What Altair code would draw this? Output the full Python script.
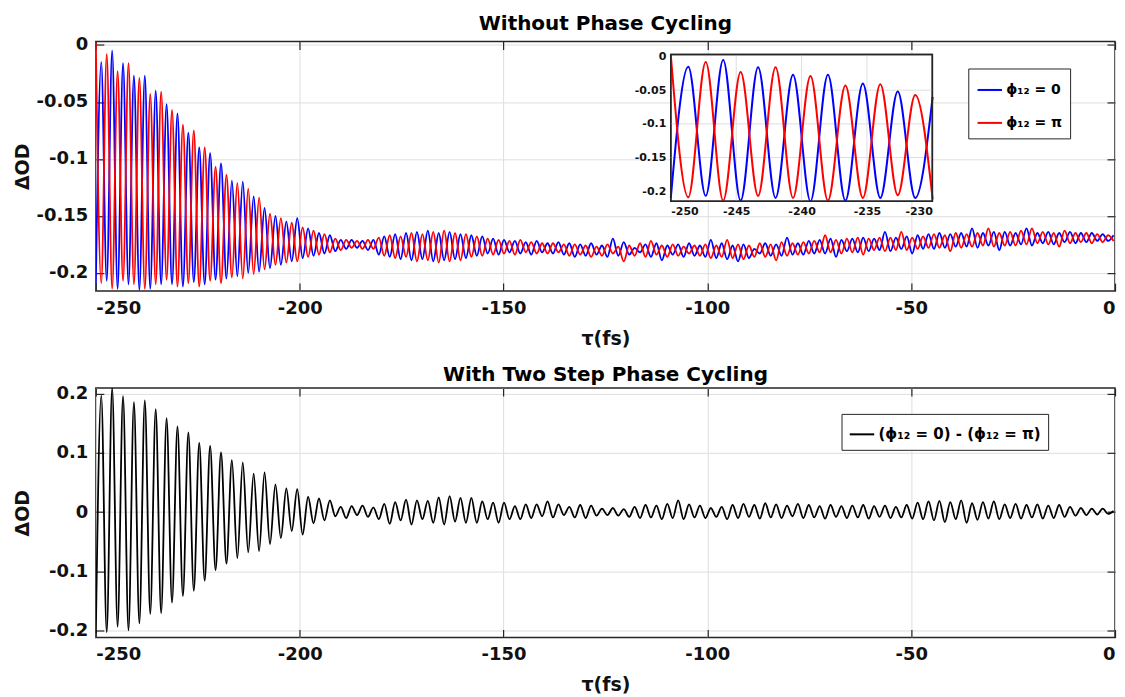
import altair as alt
import pandas as pd

# ---------------- data ----------------
# successive extrema of the oscillation are sampled every half period
HALF_PERIOD_FS = 1.335
TAU_START = -250.0

PHI0 = "ϕ₁₂ = 0"
PHIPI = "ϕ₁₂ = π"
DIFF = "(ϕ₁₂ = 0) - (ϕ₁₂ = π)"

# ΔOD in units of 0.001 (mOD), one value per extremum
blue_mOD = [
    -210, -15, -207, -5, -214, -16, -210, -27, -215, -27,
    -214, -40, -210, -52, -210, -60, -212, -77, -208, -90,
    -210, -95, -206, -104, -205, -119, -203, -120, -200, -133,
    -199, -143, -196, -150, -193, -155, -190, -152, -187, -161,
    -185, -165, -183, -167, -181, -171, -179, -171, -178, -172,
    -180, -171, -184, -168, -186, -166, -188, -165, -189, -164,
    -188, -163, -190, -165, -189, -164, -188, -166, -187, -167,
    -185, -168, -183, -170, -184, -171, -182, -172, -183, -173,
    -184, -172, -182, -174, -183, -173, -184, -174, -186, -175,
    -185, -174, -184, -176, -186, -170, -185, -173, -184, -178,
    -182, -175, -186, -174, -189, -176, -184, -175, -186, -174,
    -185, -176, -186, -171, -187, -174, -188, -176, -190, -175,
    -187, -179, -183, -174, -185, -175, -185, -169, -184, -174,
    -184, -172, -183, -171, -183, -170, -186, -171, -181, -170,
    -182, -169, -181, -170, -180, -164, -181, -169, -179, -168,
    -183, -167, -179, -166, -179, -165, -178, -166, -177, -165,
    -177, -161, -178, -165, -176, -164, -180, -164, -176, -165,
    -175, -161, -176, -165, -174, -164, -175, -165, -173, -164,
    -174, -165, -173, -165, -172, -166, -172, -167,
]
red_mOD = [
    2, -209, -8, -214, -23, -207, -16, -210, -29, -214,
    -43, -210, -41, -206, -57, -212, -70, -209, -75, -212,
    -90, -207, -107, -209, -114, -204, -121, -205, -126, -201,
    -134, -197, -148, -193, -152, -191, -156, -190, -160, -186,
    -163, -184, -166, -182, -170, -180, -171, -178, -172, -179,
    -171, -179, -169, -185, -167, -187, -168, -186, -165, -190,
    -166, -189, -164, -191, -163, -190, -165, -189, -166, -186,
    -168, -185, -170, -184, -171, -183, -172, -184, -171, -182,
    -173, -183, -174, -183, -174, -182, -175, -185, -175, -184,
    -176, -186, -177, -185, -175, -183, -177, -190, -176, -185,
    -174, -186, -172, -184, -176, -186, -175, -185, -177, -183,
    -176, -185, -175, -187, -176, -186, -171, -187, -175, -188,
    -176, -186, -174, -186, -175, -189, -173, -185, -174, -184,
    -173, -183, -172, -182, -167, -182, -171, -183, -170, -182,
    -169, -184, -170, -180, -169, -181, -169, -180, -164, -180,
    -169, -179, -168, -178, -166, -178, -167, -181, -165, -178,
    -166, -177, -165, -176, -161, -177, -165, -176, -164, -176,
    -163, -175, -161, -174, -164, -175, -165, -177, -163, -174,
    -165, -173, -165, -174, -166, -173, -167, -172,
]
diff_mOD = [
    -205, 197, -203, 210, -194, 196, -200, 186, -188, 189,
    -172, 174, -171, 159, -153, 145, -142, 135, -133, 117,
    -116, 112, -98, 101, -87, 88, -78, 84, -68, 65,
    -66, 67, -54, 47, -44, 40, -32, 39, -38, 26,
    -19, 23, -14, 20, -7, 9, -10, 10, -5, 11,
    -8, 8, -12, 14, -20, 17, -14, 21, -21, 20,
    -12, 19, -18, 25, -21, 27, -16, 24, -18, 24,
    -18, 18, -12, 16, -18, 16, -12, 10, -12, 13,
    -10, 13, -7, 18, -9, 13, -5, 9, -9, 12,
    -10, 11, -6, 6, -5, 7, -6, 5, -8, 9,
    -10, 12, -9, 11, -12, 14, -10, 20, -12, 13,
    -9, 11, -10, 7, -8, 9, -12, 12, -10, 14,
    -8, 12, -11, 15, -9, 13, -10, 11, -7, 14,
    -10, 12, -9, 10, -11, 12, -8, 10, -10, 11,
    -9, 12, -11, 10, -8, 11, -10, 9, -9, 12,
    -11, 16, -12, 18, -14, 19, -17, 17, -12, 20,
    -18, 15, -13, 17, -11, 18, -12, 13, -10, 14,
    -11, 12, -9, 13, -11, 11, -10, 12, -8, 9,
    -6, 7, -5, 6, -4, 6, -3, 2,
]

X_TICKS = [-250, -200, -150, -100, -50, 0]
Y_TICKS_TOP = [0, -0.05, -0.1, -0.15, -0.2]
Y_TICKS_BOT = [-0.2, -0.1, 0, 0.1, 0.2]
INSET_X_TICKS = [-250, -245, -240, -235, -230]
INSET_Y_TICKS = [0, -0.05, -0.1, -0.15, -0.2]
INSET_X_GRID = [-245, -240, -235]
INSET_Y_GRID = [-0.05, -0.1, -0.15]
INSET_TAU = [-250, -230]
INSET_OD = [-0.215, 0.003]

# ---------------- tables ----------------
tau = [round(TAU_START + HALF_PERIOD_FS * k, 3) for k in range(len(blue_mOD))]
df_blue = pd.DataFrame({"tau": tau, "dOD": [v / 1000 for v in blue_mOD], "series": PHI0})
df_red = pd.DataFrame({"tau": tau, "dOD": [v / 1000 for v in red_mOD], "series": PHIPI})
df_diff = pd.DataFrame({"tau": tau, "dOD": [v / 1000 for v in diff_mOD], "series": DIFF})
in_blue = df_blue[df_blue.tau <= INSET_TAU[1] + 0.05]
in_red = df_red[df_red.tau <= INSET_TAU[1] + 0.05]
df_box = pd.DataFrame({"x0": [INSET_TAU[0]], "x1": [INSET_TAU[1]],
                       "y0": [INSET_OD[0]], "y1": [INSET_OD[1]]})
df_xgrid = pd.DataFrame({"t": INSET_X_GRID})
df_ygrid = pd.DataFrame({"v": INSET_Y_GRID})

# ---------------- styling ----------------
FONT = "DejaVu Sans"
W, H = 1021, 250
MINUS = "replace(datum.label, '\u2212', '-')"
GRID = "#dedede"
FRAME = "#262626"
TICK = 8

x_main = alt.Scale(domain=[-250, 0], nice=False, zero=False)
y_top = alt.Scale(domain=[-0.216, 0.003], nice=False, zero=False)
y_bot = alt.Scale(domain=[-0.212, 0.21], nice=False, zero=False)

x_axis = alt.Axis(values=X_TICKS, title="τ(fs)", grid=True, ticks=False, domain=False,
                  labelPadding=8, format="d", labelExpr=MINUS,
                  titleX=W / 2, titleY=38, titleBaseline="top", titleAlign="center")


def y_axis(vals):
    return alt.Axis(values=vals, title="ΔOD", grid=True, ticks=False, domain=False,
                    labelPadding=8, format="~g", labelExpr=MINUS,
                    titleX=-63, titleY=H / 2, titleBaseline="bottom", titleAlign="center")


def tick_axis(orient, vals):
    # MATLAB-style inward ticks: axis moved inside the frame by the tick length
    return alt.Axis(orient=orient, offset=-TICK, values=vals, tickSize=TICK, ticks=True,
                    tickColor=FRAME, tickWidth=1.2, labels=False, domain=False, grid=False,
                    title=None)


def tick_layers(df, ys, yvals):
    a = alt.Chart(df).mark_point(opacity=0, clip=True).encode(
        x=alt.X("tau:Q", scale=x_main, axis=tick_axis("bottom", X_TICKS)),
        y=alt.Y("dOD:Q", scale=ys, axis=tick_axis("left", yvals)),
    )
    b = alt.Chart(df).mark_point(opacity=0, clip=True).encode(
        x=alt.X("tau:Q", scale=x_main, axis=tick_axis("top", X_TICKS)),
        y=alt.Y("dOD:Q", scale=ys, axis=tick_axis("right", yvals)),
    )
    return [a, b]


color_top = alt.Scale(domain=[PHI0, PHIPI], range=["#0000ff", "#ff0000"])
color_bot = alt.Scale(domain=[DIFF], range=["#000000"])

legend_top = alt.Legend(orient="none", legendX=874, legendY=27, title=None,
                        symbolType="stroke", symbolStrokeWidth=2, symbolSize=600,
                        labelFont=FONT, labelFontSize=14, labelFontWeight="bold",
                        labelColor="black", strokeColor=FRAME, fillColor="white",
                        padding=8, rowPadding=12, labelOffset=3, cornerRadius=0,
                        labelLimit=0)
legend_bot = alt.Legend(orient="none", legendX=747, legendY=26, title=None,
                        symbolType="stroke", symbolStrokeWidth=2, symbolSize=600,
                        labelFont=FONT, labelFontSize=15, labelFontWeight="bold",
                        labelColor="black", strokeColor=FRAME, fillColor="white",
                        padding=7, labelOffset=3, cornerRadius=0, labelLimit=0)

# ---------------- top panel: main traces ----------------
def main_line(df):
    return alt.Chart(df).mark_line(strokeWidth=1.8, clip=True, interpolate="monotone").encode(
        x=alt.X("tau:Q", scale=x_main, axis=x_axis),
        y=alt.Y("dOD:Q", scale=y_top, axis=y_axis(Y_TICKS_TOP)),
        color=alt.Color("series:N", scale=color_top, legend=legend_top),
    )


main_top = alt.layer(main_line(df_blue), main_line(df_red))

# ---------------- top panel: inset ----------------
ix = alt.Scale(domain=INSET_TAU, range=[576, 838], nice=False, zero=False)
iy = alt.Scale(domain=INSET_OD, range=[160, 13], nice=False, zero=False)
ix_axis = alt.Axis(orient="bottom", offset=-90, values=INSET_X_TICKS, grid=False, ticks=False,
                   domain=False, title=None, labelFontSize=11, labelPadding=4,
                   format="d", labelExpr=MINUS)
iy_axis = alt.Axis(orient="left", offset=-576, values=INSET_Y_TICKS, grid=False, ticks=False,
                   domain=False, title=None, labelFontSize=11, labelPadding=5,
                   format="~g", labelExpr=MINUS)

inset_bg = alt.Chart(df_box).mark_rect(fill="white", stroke=FRAME, strokeWidth=1.5).encode(
    x=alt.X("x0:Q", scale=ix, axis=ix_axis), x2="x1:Q",
    y=alt.Y("y0:Q", scale=iy, axis=iy_axis), y2="y1:Q",
)
inset_vgrid = alt.Chart(df_xgrid).mark_rule(color=GRID, strokeWidth=1).encode(
    x=alt.X("t:Q", scale=ix, axis=ix_axis),
    y=alt.Y(datum=INSET_OD[0], type="quantitative", scale=iy, axis=iy_axis),
    y2=alt.Y2(datum=INSET_OD[1]),
)
inset_hgrid = alt.Chart(df_ygrid).mark_rule(color=GRID, strokeWidth=1).encode(
    y=alt.Y("v:Q", scale=iy, axis=iy_axis),
    x=alt.X(datum=INSET_TAU[0], type="quantitative", scale=ix, axis=ix_axis),
    x2=alt.X2(datum=INSET_TAU[1]),
)


def inset_line(df):
    return alt.Chart(df).mark_line(strokeWidth=2, interpolate="monotone").encode(
        x=alt.X("tau:Q", scale=ix, axis=ix_axis),
        y=alt.Y("dOD:Q", scale=iy, axis=iy_axis),
        color=alt.Color("series:N", scale=color_top, legend=legend_top),
    )


inset_frame = alt.Chart(df_box).mark_rect(fill="transparent", stroke=FRAME, strokeWidth=1.5).encode(
    x=alt.X("x0:Q", scale=ix, axis=ix_axis), x2="x1:Q",
    y=alt.Y("y0:Q", scale=iy, axis=iy_axis), y2="y1:Q",
)

inset = alt.layer(inset_bg, inset_vgrid, inset_hgrid, inset_line(in_blue), inset_line(in_red),
                  inset_frame)

top = alt.layer(main_top, *tick_layers(df_blue, y_top, Y_TICKS_TOP), inset).resolve_scale(
    x="independent", y="independent"
).properties(
    width=W, height=H,
    title=alt.TitleParams("Without Phase Cycling", font=FONT, fontSize=20, fontWeight="bold",
                          color="black", anchor="middle", offset=2),
)

# ---------------- bottom panel ----------------
bottom_line = alt.Chart(df_diff).mark_line(strokeWidth=1.8, clip=True, interpolate="monotone").encode(
    x=alt.X("tau:Q", scale=x_main, axis=x_axis),
    y=alt.Y("dOD:Q", scale=y_bot, axis=y_axis(Y_TICKS_BOT)),
    color=alt.Color("series:N", scale=color_bot, legend=legend_bot),
)
bottom = alt.layer(bottom_line, *tick_layers(df_diff, y_bot, Y_TICKS_BOT)).resolve_scale(
    x="independent", y="independent"
).properties(
    width=W, height=H,
    title=alt.TitleParams("With Two Step Phase Cycling", font=FONT, fontSize=20,
                          fontWeight="bold", color="black", anchor="middle", offset=0),
)

chart = alt.vconcat(top, bottom, spacing=15).resolve_scale(color="independent").configure_view(
    stroke=FRAME, strokeWidth=1.5
).configure_axis(
    labelFont=FONT, labelFontSize=18, labelFontWeight="bold", labelColor="#111111",
    titleFont=FONT, titleFontSize=19, titleFontWeight="bold", titleColor="#111111",
    gridColor=GRID, gridWidth=1,
).properties(
    padding={"left": 13, "top": 12, "right": 8, "bottom": 0}, background="white"
)

chart.save("out.html", embed_options={"renderer": "svg", "actions": False})
